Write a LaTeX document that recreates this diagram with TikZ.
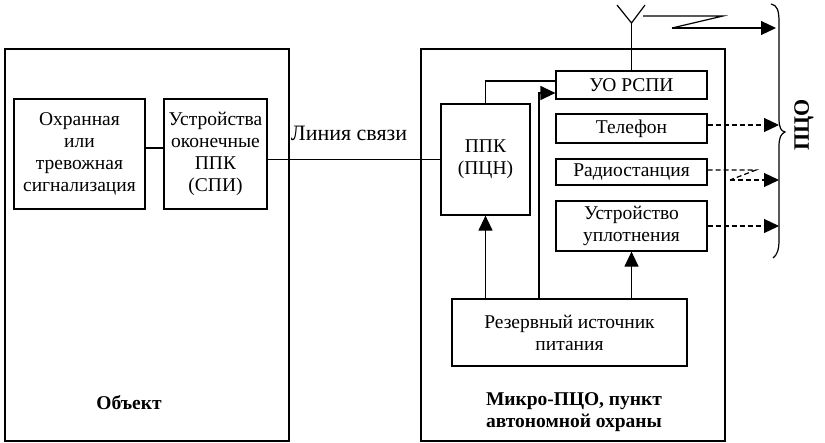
\documentclass[tikz,border=0pt]{standalone}
\usepackage{fontspec}
\setmainfont{Liberation Serif}
\usetikzlibrary{arrows.meta}
\begin{document}
\begin{tikzpicture}[x=1pt,y=-1pt,
  every node/.style={font=\fontsize{19.5}{22}\selectfont},
  box/.style={draw,line width=1.2pt,inner sep=0pt,align=center},
  ln/.style={line width=1.2pt},
  arr/.style={line width=1.2pt,-{Triangle[length=15pt,width=14pt]}},
  darr/.style={line width=1.2pt,dashed,dash pattern=on 5pt off 3pt,-{Triangle[length=15pt,width=14pt]}},
  lbl/.style={font=\fontsize{19.5}{22}\selectfont\bfseries,align=center}]
\useasboundingbox (0,0) rectangle (825,442);
% outer frames
\node[box,minimum width=284pt,minimum height=392pt] (obj) at (147,245) {};
\node[box,minimum width=304pt,minimum height=392pt] (pco) at (573,245) {};
% object side
\node[box,minimum width=131pt,minimum height=110pt] (sig) at (79.5,154) {Охранная\\или\\тревожная\\сигнализация};
\node[box,minimum width=103pt,minimum height=110pt] (spi) at (215.5,154) {Устройства\\оконечные\\ППК\\(СПИ)};
\node[lbl] (objl) at (129,403) {Объект};
% micro PCO side
\node[box,minimum width=89pt,minimum height=111pt] (ppk) at (485.5,159.5) {ППК\\(ПЦН)};
\node[box,minimum width=151pt,minimum height=28pt] (uo) at (631.5,85) {УО РСПИ};
\node[box,minimum width=151pt,minimum height=29pt] (tel) at (631.5,128.5) {Телефон};
\node[box,minimum width=151pt,minimum height=26pt] (rad) at (631.5,172) {Радиостанция};
\node[box,minimum width=151pt,minimum height=50pt] (upl) at (631.5,226) {Устройство\\уплотнения};
\node[box,minimum width=235pt,minimum height=67pt] (res) at (569.5,332.5) {Резервный источник\\питания};
\node[lbl] (mpl) at (574,412) {Микро-ПЦО, пункт\\автономной охраны};
\node[font=\fontsize{22}{24}\selectfont] (line) at (349,133) {Линия связи};
\node[lbl,font=\fontsize{22}{24}\selectfont\bfseries,rotate=90] (pcol) at (804,125) {ПЦО};
% coordinates
\coordinate (y148) at (0,148);
\coordinate (y81) at (0,81);
\coordinate (y93) at (0,93);
\coordinate (x539) at (539,0);
\coordinate (ant) at (631.5,23);
\coordinate (antl) at (617,5);
\coordinate (antr) at (645,5);
\coordinate (z1) at (643,16);
\coordinate (z2) at (723,16);
\coordinate (z3) at (672,28);
\coordinate (z4) at (776,28);
\coordinate (r1) at (756,170);
\coordinate (r2) at (730,180);
\coordinate (r3) at (779,180);
\coordinate (bx) at (779,0);
% connections
\draw[ln] (sig.east |- y148) -- (spi.west |- y148);
\draw[ln] (spi.east |- ppk.west) -- (ppk.west);
\draw[ln] (ppk.north) |- (uo.west |- y81);
\draw[arr] (res.north -| x539) |- (uo.west |- y93);
\draw[arr] (res.north -| ppk.south) -- (ppk.south);
\draw[arr] (res.north -| upl.south) -- (upl.south);
% antenna
\draw[ln] (uo.north) -- (ant);
\draw[ln] (antl) -- (ant) -- (antr);
\draw[ln] (z1) -- (z2) -- (z3);
\draw[arr] (z3) -- (z4);
% dashed links
\draw[darr] (tel.east |- 0,125) -- (bx |- 0,125);
\draw[ln,dashed,dash pattern=on 5pt off 3pt] (rad.east |- r1) -- (r1) -- (r2);
\draw[darr] (r2) -- (r3);
\draw[darr] (upl.east) -- (bx |- upl.east);
% brace
\draw[line width=1.2pt] (771,4) .. controls (777,5) and (779,10) .. (779,22) -- (779,118)
  .. controls (779,128) and (781,131) .. (785,132)
  .. controls (781,134) and (779,137) .. (779,147) -- (779,240)
  .. controls (779,250) and (777,255) .. (773,258);
\end{tikzpicture}
\end{document}
